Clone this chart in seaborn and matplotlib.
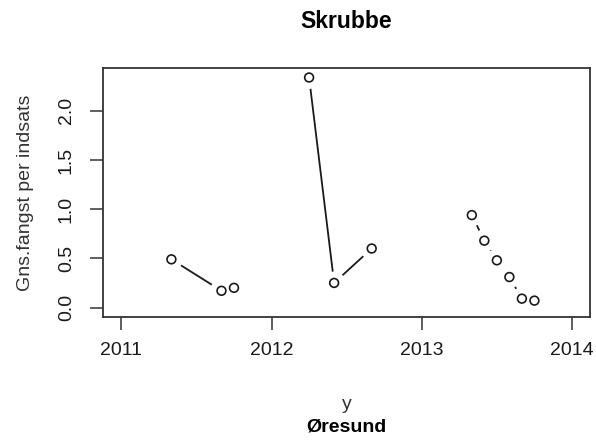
import numpy as np
import pandas as pd
import matplotlib
matplotlib.use("Agg")
import matplotlib.pyplot as plt
import seaborn as sns

# Average catch per haul of flounder (Skrubbe), by survey month
years = [2011, 2011, 2011,
         2012, 2012, 2012,
         2013, 2013, 2013, 2013, 2013, 2013]
months = [4, 8, 9,
          3, 5, 8,
          4, 5, 6, 7, 8, 9]
catch = [0.49, 0.17, 0.20,
         2.34, 0.25, 0.60,
         0.94, 0.68, 0.48, 0.31, 0.09, 0.07]
xticks = [2011, 2012, 2013, 2014]
yticks = [0.0, 0.5, 1.0, 1.5, 2.0]
yticklabels = ["0.0", "0.5", "1.0", "1.5", "2.0"]

df = pd.DataFrame({"year": years, "month": months, "catch": catch})
df["t"] = df["year"] + df["month"] / 12.0

sns.set_theme(style="white")
plt.rcParams["font.family"] = ["Liberation Sans", "DejaVu Sans"]

W, H = 596, 441
fig = plt.figure(figsize=(W / 100, H / 100), dpi=100)
left, right, top, bottom = 103.3, 590.0, 68.3, 316.7
ax = fig.add_axes([left / W, 1 - bottom / H, (right - left) / W, (bottom - top) / H])

ink = "#1a1a1a"

# connecting lines within each year, broken between years
sns.lineplot(data=df, x="t", y="catch", units="year", estimator=None,
             sort=False, color=ink, linewidth=1.3, ax=ax, zorder=1,
             legend=False)
# white halo around each point leaves the gap of an R type="b" plot
sns.scatterplot(data=df, x="t", y="catch", s=270, color="white",
                edgecolor="none", linewidth=0, ax=ax, zorder=1.5, legend=False)
# open circle markers
sns.scatterplot(data=df, x="t", y="catch", s=40, facecolor="none",
                edgecolor=ink, linewidth=1.2, ax=ax, zorder=3, legend=False)

ax.set_xlim(2010.88, 2014.12)
ymax = max(catch)
ax.set_ylim(-0.04 * ymax, 1.04 * ymax)

ax.set_xticks(xticks)
ax.set_xticklabels([str(v) for v in xticks])
ax.set_yticks(yticks)
ax.set_yticklabels(yticklabels, rotation=90, va="center")

ax.tick_params(axis="both", which="major", direction="out", length=9.5,
               width=1.1, color="#333333", labelsize=14, labelcolor=ink,
               left=True, bottom=True)
ax.tick_params(axis="x", pad=9)
ax.tick_params(axis="y", pad=11)

for sp in ax.spines.values():
    sp.set_visible(True)
    sp.set_color("#333333")
    sp.set_linewidth(1.3)
    sp.set_zorder(2.5)

ax.grid(False)

ax.set_xlabel("y", fontsize=14, color="#333333")
ax.xaxis.set_label_coords(0.5, (bottom - 409) / (bottom - top))
ax.xaxis.label.set_va("baseline")

ax.set_ylabel("Gns.fangst per indsats", fontsize=14, color="#333333")
ax.yaxis.set_label_coords((26 - left) / (right - left), 0.5)
ax.yaxis.label.set_va("center")

cx = (left + right) / 2 / W
fig.text(cx, 1 - 28 / H, "Skrubbe", ha="center", va="baseline",
         fontsize=16.5, fontweight="bold", color="black")
fig.text(cx, 1 - 431 / H, "Øresund", ha="center", va="baseline",
         fontsize=14, fontweight="bold", color="black")

fig.savefig("out.png", dpi=100, facecolor="white")
